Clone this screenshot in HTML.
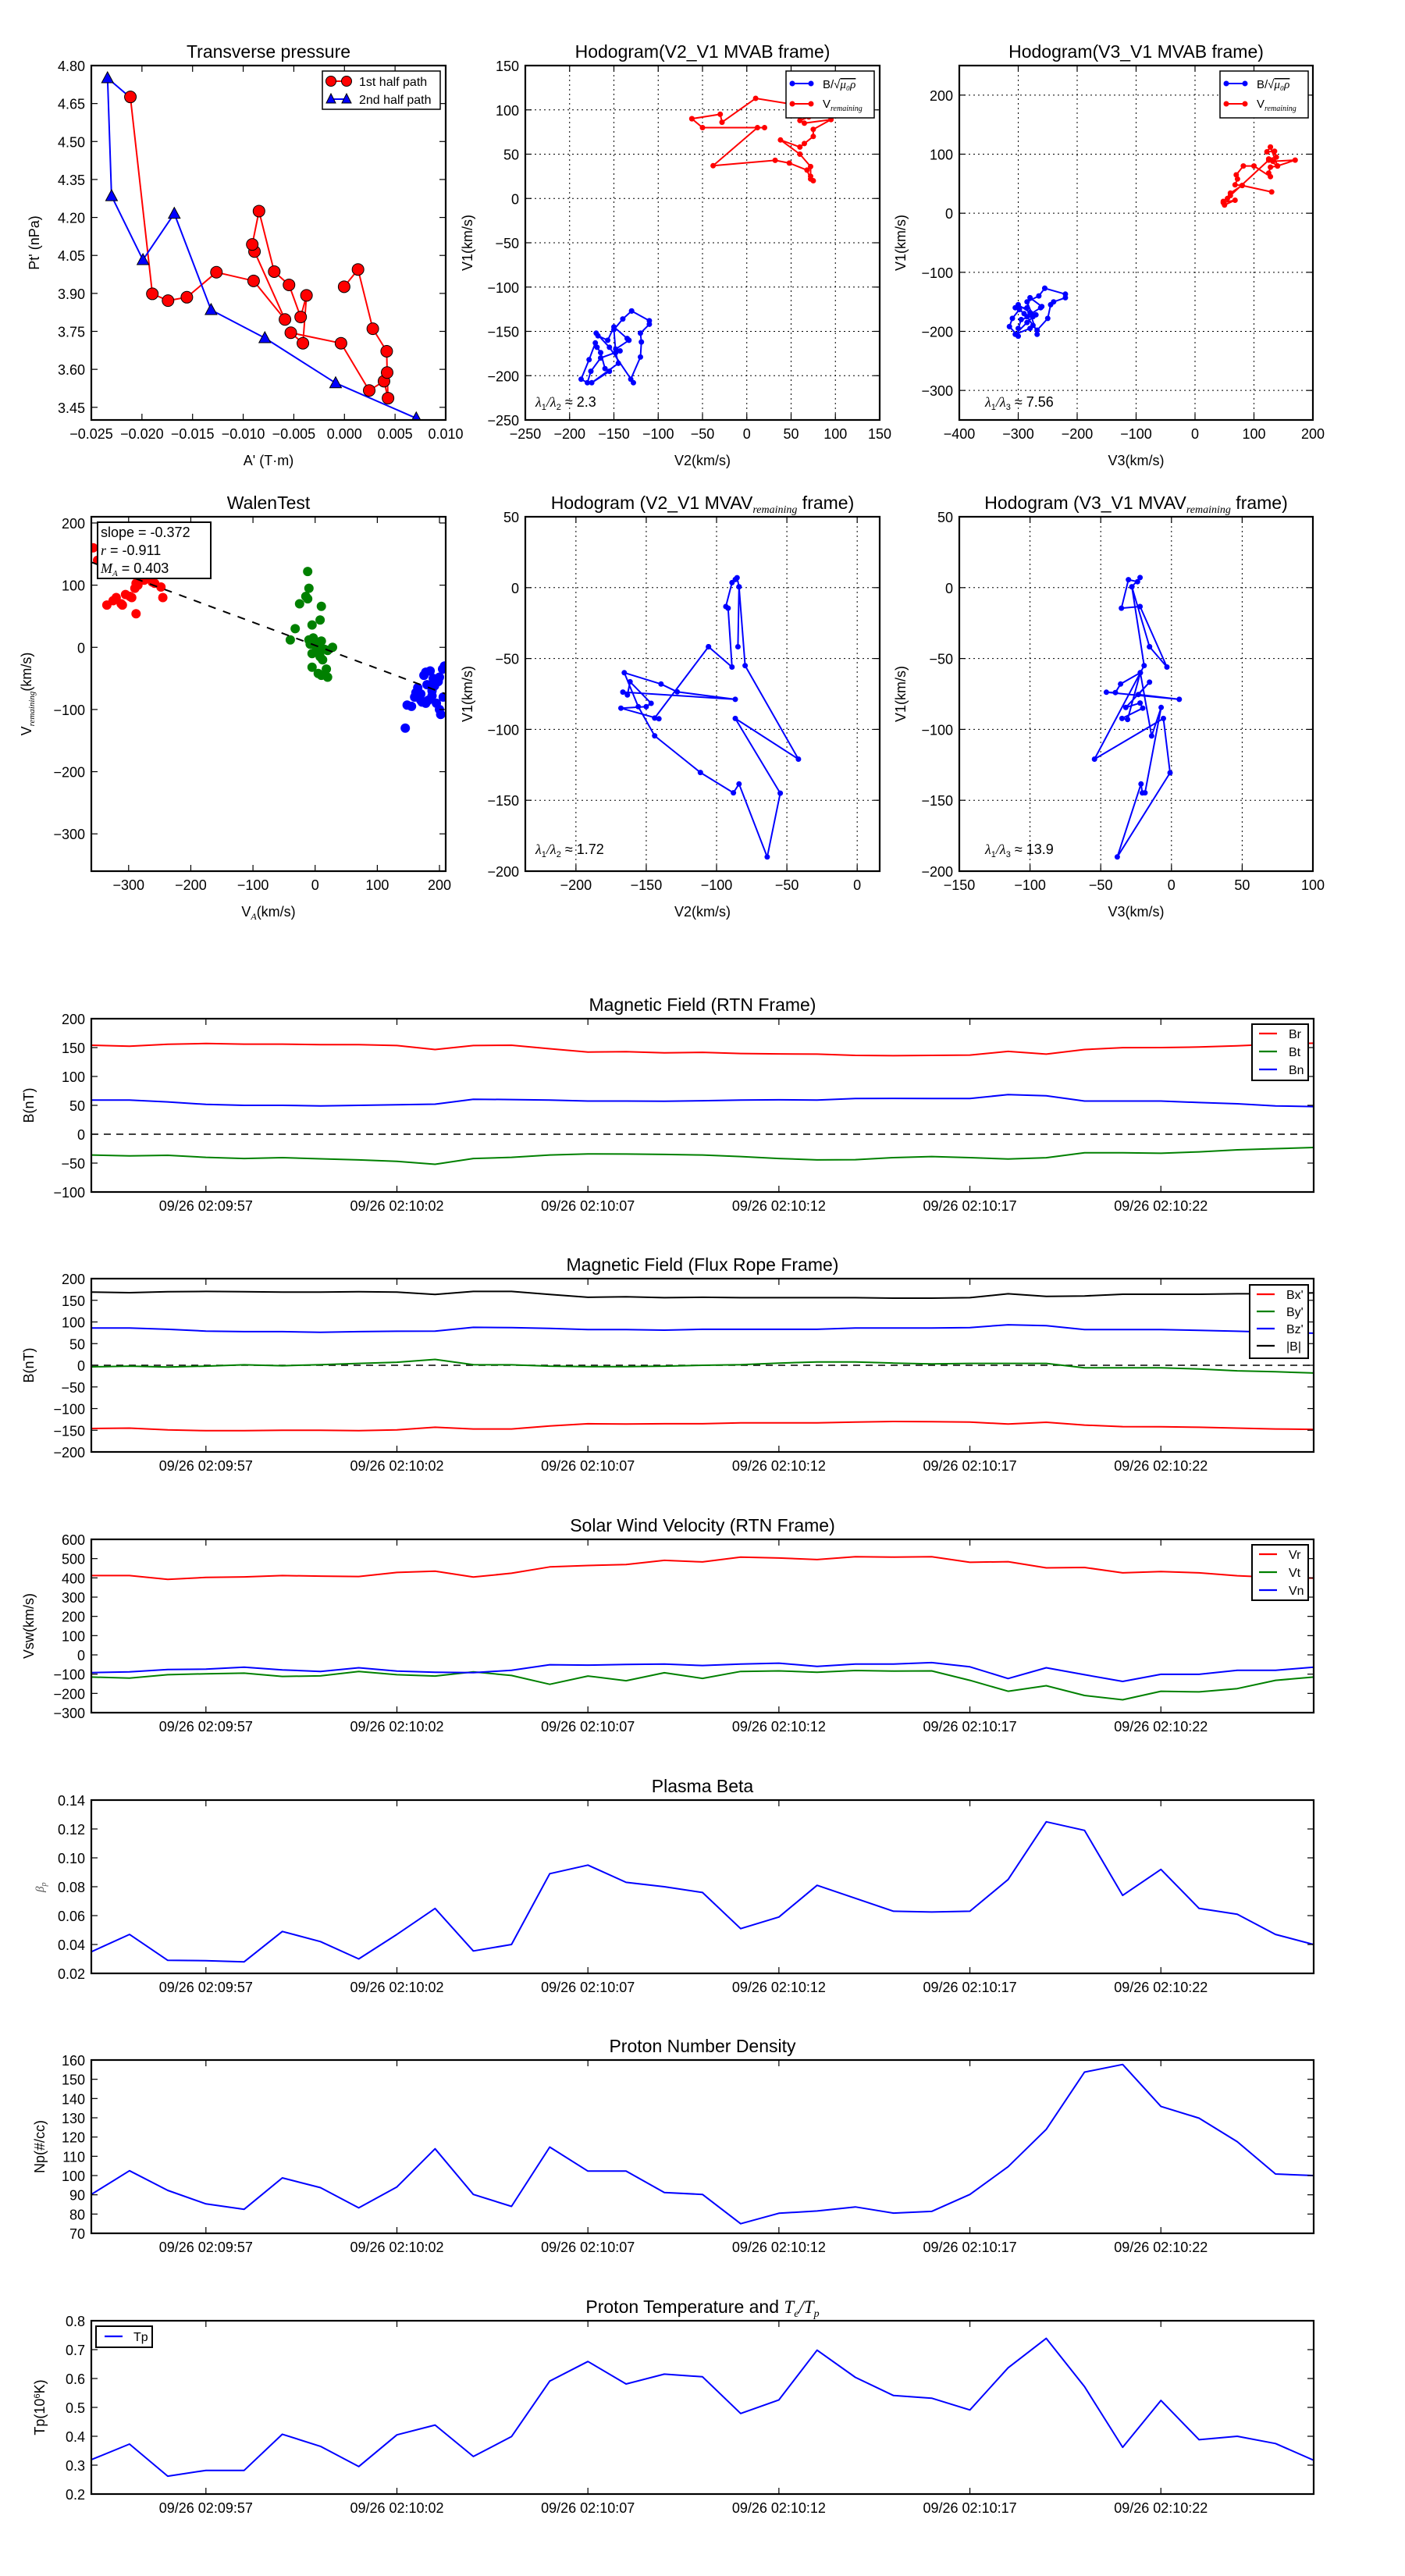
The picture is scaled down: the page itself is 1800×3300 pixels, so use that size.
<!DOCTYPE html>
<html><head><meta charset="utf-8">
<style>
html,body{margin:0;padding:0;background:#fff;}
svg{display:block;}
text{font-family:"Liberation Sans","DejaVu Sans",sans-serif;fill:#000;}
.m{font-family:"Liberation Serif",serif;font-style:italic;}
</style></head>
<body>
<div id="root"></div>
<script>
const S=[];let clipN=0;
const fmtMinus=s=>String(s).replace('-','\u2212');
function axes(o){
 const X=v=>o.x0+(v-o.xmin)/(o.xmax-o.xmin)*(o.x1-o.x0);
 const Y=v=>o.y1-(v-o.ymin)/(o.ymax-o.ymin)*(o.y1-o.y0);
 const id='c'+(clipN++);
 S.push(`<clipPath id="${id}"><rect x="${o.x0}" y="${o.y0}" width="${o.x1-o.x0}" height="${o.y1-o.y0}"/></clipPath>`);
 const fs=o.fs||18;
 if(o.grid){
  o.xt.forEach(t=>{const p=X(t);S.push(`<line x1="${p}" y1="${o.y0}" x2="${p}" y2="${o.y1}" stroke="#000" stroke-width="1" stroke-dasharray="2,4"/>`);});
  o.yt.forEach(t=>{const p=Y(t);S.push(`<line x1="${o.x0}" y1="${p}" x2="${o.x1}" y2="${p}" stroke="#000" stroke-width="1" stroke-dasharray="2,4"/>`);});
 }
 S.push(`<g clip-path="url(#${id})">`);
 o.draw(X,Y);
 S.push(`</g>`);
 o.xt.forEach((t,i)=>{const p=X(t);
  S.push(`<line x1="${p}" y1="${o.y1}" x2="${p}" y2="${o.y1-8}" stroke="#000" stroke-width="1.2"/><line x1="${p}" y1="${o.y0}" x2="${p}" y2="${o.y0+8}" stroke="#000" stroke-width="1.2"/>`);
  const lab=o.xl?o.xl[i]:fmtMinus(t);
  S.push(`<text x="${p}" y="${o.y1+24}" font-size="${fs}" text-anchor="middle">${lab}</text>`);
 });
 o.yt.forEach((t,i)=>{const p=Y(t);
  S.push(`<line x1="${o.x0}" y1="${p}" x2="${o.x0+8}" y2="${p}" stroke="#000" stroke-width="1.2"/><line x1="${o.x1}" y1="${p}" x2="${o.x1-8}" y2="${p}" stroke="#000" stroke-width="1.2"/>`);
  const lab=o.yl?o.yl[i]:fmtMinus(t);
  S.push(`<text x="${o.x0-8}" y="${p+7}" font-size="${fs}" text-anchor="end">${lab}</text>`);
 });
 S.push(`<rect x="${o.x0}" y="${o.y0}" width="${o.x1-o.x0}" height="${o.y1-o.y0}" fill="none" stroke="#000" stroke-width="2.2"/>`);
 if(o.title)S.push(`<text x="${(o.x0+o.x1)/2}" y="${o.y0-10}" font-size="23" text-anchor="middle">${o.title}</text>`);
 if(o.xlabel)S.push(`<text x="${(o.x0+o.x1)/2}" y="${o.y1+58}" font-size="18" text-anchor="middle">${o.xlabel}</text>`);
 if(o.ylabel){const cy=(o.y0+o.y1)/2;S.push(`<text x="${o.ylx}" y="${cy}" font-size="18" text-anchor="middle" transform="rotate(-90 ${o.ylx} ${cy})">${o.ylabel}</text>`);}
 return {X,Y};
}
function line(X,Y,pts,col,w){S.push(`<polyline fill="none" stroke="${col}" stroke-width="${w||2}" stroke-linejoin="round" points="${pts.map(p=>X(p[0]).toFixed(1)+','+Y(p[1]).toFixed(1)).join(' ')}"/>`);}
function dots(X,Y,pts,col,r,edge){pts.forEach(p=>S.push(`<circle cx="${X(p[0]).toFixed(1)}" cy="${Y(p[1]).toFixed(1)}" r="${r}" fill="${col}" ${edge?'stroke="#000" stroke-width="1"':''}/>`));}
function rng(a,b,s){const r=[];for(let v=a;v<=b+1e-9;v+=s)r.push(Math.round(v*1000)/1000);return r;}

// ===== Transverse pressure =====
const z2p=(a)=>a.map(p=>[p[0]/1.742,p[1]/2.529]);
const redTP=z2p([[291,314],[340,952],[375,974],[417,963],[483,882],[566,910],[636,1035],[568,815],[563,792],[578,684],[612,880],[645,923],[671,1027],[684,957],[676,1112],[649,1078],[761,1112],[824,1265],[857,1235],[866,1290],[864,1207],[863,1138],[832,1065],[799,873],[768,929]]);
const bluTP=z2p([[291,316],[240,253],[249,635],[319,842],[389,692],[471,1004],[591,1095],[749,1241],[929,1355]]);
const ID=v=>v;
axes({x0:117,x1:571,y0:84,y1:538,xmin:-0.025,xmax:0.010,ymin:3.40,ymax:4.80,
 xt:rng(-0.025,0.010,0.005),xl:['\u22120.025','\u22120.020','\u22120.015','\u22120.010','\u22120.005','0.000','0.005','0.010'],
 yt:rng(3.45,4.80,0.15),yl:['3.45','3.60','3.75','3.90','4.05','4.20','4.35','4.50','4.65','4.80'],
 title:'Transverse pressure',xlabel:"A' (T\u00b7m)",ylabel:"Pt' (nPa)",ylx:50,
 draw:()=>{
  line(ID,ID,redTP,'#f00',2);
  line(ID,ID,bluTP,'#00f',2);
  redTP.forEach(p=>S.push(`<circle cx="${p[0]}" cy="${p[1]}" r="7.5" fill="#f00" stroke="#000" stroke-width="1"/>`));
  bluTP.slice(1).forEach(p=>S.push(`<polygon points="${p[0]},${p[1]-8} ${p[0]-7.5},${p[1]+6} ${p[0]+7.5},${p[1]+6}" fill="#00f" stroke="#000" stroke-width="1"/>`));
 }});
S.push(`<rect x="413" y="91" width="151" height="49" fill="#fff" stroke="#000" stroke-width="1.5"/>
<line x1="424" y1="104" x2="444" y2="104" stroke="#f00" stroke-width="2"/><circle cx="424" cy="104" r="6.5" fill="#f00" stroke="#000"/><circle cx="444" cy="104" r="6.5" fill="#f00" stroke="#000"/>
<text x="460" y="110" font-size="16">1st half path</text>
<line x1="424" y1="127" x2="444" y2="127" stroke="#00f" stroke-width="2"/><polygon points="424,120 418,132 430,132" fill="#00f" stroke="#000"/><polygon points="444,120 438,132 450,132" fill="#00f" stroke="#000"/>
<text x="460" y="133" font-size="16">2nd half path</text>`);

// ===== Hodogram V2_V1 MVAB =====
const bB=[[-130,-127],[-110,-138],[-110,-142],[-120,-152],[-119,-162],[-120,-179],[-131,-204],[-128,-208],[-155,-168],[-170,-152],[-168,-155],[-157,-160],[-150,-145],[-135,-158],[-133,-160],[-148,-170],[-143,-172],[-165,-180],[-176,-195],[-180,-208],[-187,-204],[-178,-182],[-171,-163],[-169,-168],[-165,-174],[-160,-192],[-155,-195],[-175,-208],[-145,-186],[-148,-174],[-150,-148],[-140,-136],[-130,-127]];
const rV=[[-62,90],[-30,95],[-28,86],[10,113],[60,105],[70,92],[60,88],[65,85],[95,89],[75,78],[75,70],[65,62],[60,58],[38,66],[60,50],[72,36],[72,25],[75,20],[72,22],[68,32],[48,40],[32,43],[-38,37],[12,80],[20,80],[-50,80],[-62,90]];
function legBV(x){S.push(`<rect x="${x}" y="91" width="113" height="60" fill="#fff" stroke="#000" stroke-width="1.5"/>
<line x1="${x+8}" y1="107" x2="${x+32}" y2="107" stroke="#00f" stroke-width="2"/><circle cx="${x+8}" cy="107" r="3.5" fill="#00f"/><circle cx="${x+32}" cy="107" r="3.5" fill="#00f"/>
<text x="${x+47}" y="113" font-size="15">B/\u221A<tspan class="m" text-decoration="overline">\u03bc\u2080\u03c1</tspan></text>
<line x1="${x+8}" y1="133" x2="${x+32}" y2="133" stroke="#f00" stroke-width="2"/><circle cx="${x+8}" cy="133" r="3.5" fill="#f00"/><circle cx="${x+32}" cy="133" r="3.5" fill="#f00"/>
<text x="${x+47}" y="138" font-size="15">V<tspan class="m" font-size="10" dy="4">remaining</tspan></text>`);}
axes({x0:673,x1:1127,y0:84,y1:538,xmin:-250,xmax:150,ymin:-250,ymax:150,grid:1,
 xt:rng(-250,150,50),yt:rng(-250,150,50),title:'Hodogram(V2_V1 MVAB frame)',xlabel:'V2(km/s)',ylabel:'V1(km/s)',ylx:605,
 draw:(X,Y)=>{line(X,Y,bB,'#00f',2);dots(X,Y,bB,'#00f',3.5);line(X,Y,rV,'#f00',2);dots(X,Y,rV,'#f00',3.5);}});
legBV(1007);
S.push(`<text x="686" y="521" font-size="18"><tspan class="m">\u03bb</tspan><tspan font-size="11" dy="4">1</tspan><tspan class="m" dy="-4">/\u03bb</tspan><tspan font-size="11" dy="4">2</tspan><tspan dy="-4"> \u2248 2.3</tspan></text>`);

// ===== Hodogram V3_V1 MVAB =====
const bB3=[[-255,-127],[-220,-137],[-220,-143],[-240,-150],[-245,-155],[-250,-178],[-268,-198],[-268,-205],[-280,-168],[-300,-155],[-305,-160],[-285,-160],[-280,-143],[-260,-158],[-262,-160],[-278,-170],[-270,-172],[-295,-180],[-300,-195],[-300,-208],[-315,-192],[-310,-178],[-298,-163],[-290,-170],[-285,-175],[-275,-190],[-280,-195],[-305,-205],[-285,-185],[-275,-175],[-285,-150],[-265,-140],[-255,-127]];
const rV3=[[128,112],[122,104],[135,105],[138,95],[125,92],[132,88],[170,90],[140,80],[128,78],[125,68],[128,62],[100,80],[82,80],[70,65],[72,58],[68,48],[80,47],[130,36],[80,47],[60,34],[55,25],[48,20],[50,14],[68,22],[48,18],[60,30],[125,90],[140,80],[128,112]];
axes({x0:1229,x1:1682,y0:84,y1:538,xmin:-400,xmax:200,ymin:-350,ymax:250,grid:1,
 xt:rng(-400,200,100),yt:rng(-300,200,100),title:'Hodogram(V3_V1 MVAB frame)',xlabel:'V3(km/s)',ylabel:'V1(km/s)',ylx:1160,
 draw:(X,Y)=>{line(X,Y,bB3,'#00f',2);dots(X,Y,bB3,'#00f',3.5);line(X,Y,rV3,'#f00',2);dots(X,Y,rV3,'#f00',3.5);}});
legBV(1563);
S.push(`<text x="1262" y="521" font-size="18"><tspan class="m">\u03bb</tspan><tspan font-size="11" dy="4">1</tspan><tspan class="m" dy="-4">/\u03bb</tspan><tspan font-size="11" dy="4">3</tspan><tspan dy="-4"> \u2248 7.56</tspan></text>`);

// ===== Walen =====
const wr=[[-335,68],[-325,75],[-320,80],[-312,70],[-310,68],[-305,85],[-298,82],[-295,80],[-290,95],[-288,103],[-285,100],[-288,54],[-280,110],[-275,108],[-268,115],[-262,105],[-258,103],[-248,97],[-245,80],[-357,160],[-350,140],[-342,150]];
const wg=[[-12,122],[-10,95],[-15,82],[-12,78],[-25,70],[10,66],[8,44],[-5,36],[-32,30],[-40,12],[-10,12],[-8,5],[-3,15],[0,10],[5,2],[10,10],[-5,-10],[2,-5],[8,-15],[12,-20],[20,-5],[28,0],[-5,-32],[5,-42],[10,-45],[18,-35],[20,-48],[15,-3]];
const wb=[[145,-130],[148,-93],[155,-95],[160,-80],[162,-73],[165,-65],[170,-75],[172,-88],[175,-45],[178,-40],[180,-60],[182,-85],[185,-38],[188,-70],[190,-50],[195,-90],[198,-55],[200,-48],[200,-100],[202,-108],[205,-35],[208,-30],[206,-80],[170,-85],[178,-90],[188,-78],[192,-62],[165,-80]];
axes({x0:117,x1:571,y0:662,y1:1116,xmin:-360,xmax:210,ymin:-360,ymax:210,
 xt:rng(-300,200,100),yt:rng(-300,200,100),title:'WalenTest',
 xlabel:'V<tspan class="m" font-size="12" dy="4">A</tspan><tspan dy="-4">(km/s)</tspan>',
 ylabel:'V<tspan class="m" font-size="11" dy="4">remaining</tspan><tspan dy="-4">(km/s)</tspan>',ylx:40,
 draw:(X,Y)=>{dots(X,Y,wr,'#f00',6);dots(X,Y,wg,'#008000',6);dots(X,Y,wb,'#00f',6);
  S.push(`<line x1="${X(-360)}" y1="${Y(137)}" x2="${X(210)}" y2="${Y(-75)}" stroke="#000" stroke-width="2" stroke-dasharray="10,10"/>`);}});
S.push(`<rect x="125" y="669" width="145" height="72" fill="#fff" stroke="#000" stroke-width="2"/>
<text x="129" y="688" font-size="18">slope = -0.372</text>
<text x="129" y="711" font-size="18"><tspan class="m">r</tspan> = -0.911</text>
<text x="129" y="734" font-size="18"><tspan class="m">M</tspan><tspan class="m" font-size="11" dy="4">A</tspan><tspan dy="-4"> = 0.403</tspan></text>`);

// ===== Hodogram V2_V1 MVAV =====
const h2=[[-105.7,-41.7],[-89,-56],[-91.8,-14.5],[-93.4,-13.3],[-89,3.5],[-86.7,5.7],[-85.4,7],[-84,0.6],[-84.8,-41.7],[-84,0.6],[-79.7,-55],[-41.8,-121],[-86.7,-92.3],[-54.7,-145],[-64,-190],[-84,-138.5],[-88,-144.7],[-111.5,-130.4],[-144,-104.5],[-155.7,-84],[-165.6,-60],[-139.5,-68],[-128,-73.5],[-86.7,-78.8],[-166.6,-73.7],[-163.4,-75.7],[-161.5,-66.4],[-146.5,-81.6],[-150,-84],[-168,-85],[-141,-92.5],[-144,-92],[-105.7,-41.7]];
const sub=t=>`V<tspan class="m" font-size="14" dy="5">${t}</tspan><tspan dy="-5"> frame)</tspan>`;
axes({x0:673,x1:1127,y0:662,y1:1116,xmin:-236,xmax:16,ymin:-200,ymax:50,grid:1,
 xt:rng(-200,0,50),yt:rng(-200,50,50),title:'Hodogram (V2_V1 MVA'+sub('remaining'),xlabel:'V2(km/s)',ylabel:'V1(km/s)',ylx:605,
 draw:(X,Y)=>{line(X,Y,h2,'#00f',2);dots(X,Y,h2,'#00f',3.5);}});
S.push(`<text x="686" y="1094" font-size="18"><tspan class="m">\u03bb</tspan><tspan font-size="11" dy="4">1</tspan><tspan class="m" dy="-4">/\u03bb</tspan><tspan font-size="11" dy="4">2</tspan><tspan dy="-4"> \u2248 1.72</tspan></text>`);

// ===== Hodogram V3_V1 MVAV =====
const h3=[[-15.5,-41.7],[-3.2,-56],[-22.2,-13.3],[-35.4,-14.5],[-30.4,5.6],[-24,4.2],[-22.2,7.1],[-28,0.6],[-15.5,-41.7],[-28,0.6],[-19.3,-55],[-54.4,-121],[-5.7,-92.3],[-1,-130.6],[-38.3,-190],[-21.5,-138.5],[-20.6,-144.8],[-18.7,-144.7],[-7.3,-84.5],[-14,-104.6],[-22,-60],[-36,-68],[-39.6,-74],[-46,-73.8],[5.5,-78.8],[-23.4,-75.4],[-15.5,-66.7],[-32.3,-84.5],[-22.2,-81.4],[-20.3,-85],[-35,-92.3],[-31,-93],[-22,-60]];
axes({x0:1229,x1:1682,y0:662,y1:1116,xmin:-150,xmax:100,ymin:-200,ymax:50,grid:1,
 xt:rng(-150,100,50),yt:rng(-200,50,50),title:'Hodogram (V3_V1 MVA'+sub('remaining'),xlabel:'V3(km/s)',ylabel:'V1(km/s)',ylx:1160,
 draw:(X,Y)=>{line(X,Y,h3,'#00f',2);dots(X,Y,h3,'#00f',3.5);}});
S.push(`<text x="1262" y="1094" font-size="18"><tspan class="m">\u03bb</tspan><tspan font-size="11" dy="4">1</tspan><tspan class="m" dy="-4">/\u03bb</tspan><tspan font-size="11" dy="4">3</tspan><tspan dy="-4"> \u2248 13.9</tspan></text>`);

// ===== Time series =====
const TX=[3,8,13,18,23,28],TL=['09/26 02:09:57','09/26 02:10:02','09/26 02:10:07','09/26 02:10:12','09/26 02:10:17','09/26 02:10:22'];
function ts(top,ymin,ymax,yt,yl,title,ylabel,ylx,series,zero){
 axes({x0:117,x1:1683,y0:top,y1:top+222,xmin:0,xmax:32,ymin,ymax,xt:TX,xl:TL,yt,yl,title,ylabel,ylx,fs:18,
  draw:(X,Y)=>{
   if(zero)S.push(`<line x1="117" y1="${Y(0)}" x2="1683" y2="${Y(0)}" stroke="#000" stroke-width="1.5" stroke-dasharray="9,7"/>`);
   series.forEach(s=>line(X,Y,s[0].map((v,i)=>[i,v]),s[1],2));
  }});
}
function legend(x,y,w,h,items,dy,lx,tx){
 S.push(`<rect x="${x}" y="${y}" width="${w}" height="${h}" fill="#fff" stroke="#000" stroke-width="2"/>`);
 items.forEach((it,i)=>{const yy=y+12+i*dy;
  S.push(`<line x1="${lx}" y1="${yy}" x2="${lx+23}" y2="${yy}" stroke="${it[1]}" stroke-width="2.2"/><text x="${tx}" y="${yy+6}" font-size="16">${it[0]}</text>`);});
}
const Br=[154,152.5,155.7,157,156,156,155,155,153.5,146.6,153.5,154,148,142.3,143,141,141.8,139.7,139,138.6,136.5,136,136.5,137,143.4,138.6,146.6,149.8,150,151,153,156,157.6];
const Bn=[59,59,56,51.6,50,50,49,50,51,52,60.6,60,59,57.5,57.5,57,58,59,59.6,59,61.7,62,61.7,61.7,68.7,66.6,57.5,57.5,57.5,54.8,52.7,49,47.9];
const Bt=[-36,-37.5,-36.5,-40,-42,-40.5,-42.6,-44.5,-47,-52,-42,-40,-36,-34,-34.3,-35,-36,-38.6,-42,-44.5,-44,-40.5,-38.6,-40.5,-43,-40.7,-32,-32,-33,-30.6,-27,-25,-23];
ts(1305,-100,200,rng(-100,200,50),null,'Magnetic Field (RTN Frame)','B(nT)',43,[[Br,'#f00'],[Bt,'#008000'],[Bn,'#00f']],1);
legend(1604,1312,72,72,[['Br','#f00'],['Bt','#008000'],['Bn','#00f']],23,1613,1651);

const BB=[169,167.5,170,170.5,170,169,169,170,169,163.5,170.5,170.5,163.5,157,158,156,157,156,156,156,156,155,155,156,165,159,160,164,164,164,165,165,167];
const Bz=[86,86,83,79,77.6,77.6,76,77.6,78.6,79,87.5,87,85,82.6,82.6,81,83,83,83,83,86,86,86,87,93.6,91.5,82.6,82.6,82.6,80.5,78.6,76,74];
const By=[-3.6,-2,-4,-2,1,-1,1.4,4.3,7,13.5,1.4,1,-2,-3,-3,-2,0,1.4,5,7.8,7.8,5,3,4.3,4.3,4.3,-5.7,-5.7,-5.7,-8.5,-12.8,-15,-17.8];
const Bx=[-146,-145,-149,-151,-151,-150,-150,-151,-149,-143,-147,-147,-140,-135,-135.6,-135,-135,-133,-133,-133,-131,-129.7,-130,-131,-135.6,-131.5,-138,-141.6,-142,-143,-145,-147,-148];
ts(1638,-200,200,rng(-200,200,50),null,'Magnetic Field (Flux Rope Frame)','B(nT)',43,[[Bx,'#f00'],[By,'#008000'],[Bz,'#00f'],[BB,'#000']],1);
legend(1601,1646,75,94,[["Bx'",'#f00'],["By'",'#008000'],["Bz'",'#00f'],['|B|','#000']],22,1610,1648);

const Vr=[412,412,392,402,405,412,409,407,428,435,404,424,457,464,469,491,483,508,503,495,510,508,510,481,484,452,454,426,433,426,411,402,399];
const Vn=[-92,-88,-76,-74,-64,-78,-86,-67,-84,-90,-92,-80,-51,-53,-50,-48,-55,-48,-43,-60,-48,-48,-40,-62,-123,-67,-103,-138,-101,-101,-80,-80,-64];
const Vt=[-115,-121,-103,-98,-95,-112,-109,-86,-103,-110,-88,-107,-153,-110,-134,-93,-122,-86,-83,-90,-81,-84,-83,-132,-189,-160,-211,-233,-189,-192,-175,-132,-115];
ts(1972,-300,600,rng(-300,600,100),null,'Solar Wind Velocity (RTN Frame)','Vsw(km/s)',43,[[Vr,'#f00'],[Vt,'#008000'],[Vn,'#00f']],0);
legend(1604,1979,72,71,[['Vr','#f00'],['Vt','#008000'],['Vn','#00f']],23,1613,1651);

const beta=[0.035,0.047,0.029,0.0288,0.028,0.049,0.042,0.030,0.047,0.065,0.0355,0.040,0.089,0.095,0.083,0.080,0.076,0.051,0.059,0.081,0.072,0.063,0.0625,0.063,0.085,0.125,0.119,0.074,0.092,0.065,0.061,0.047,0.040];
ts(2306,0.02,0.14,rng(0.02,0.14,0.02),['0.02','0.04','0.06','0.08','0.10','0.12','0.14'],'Plasma Beta','',0,[[beta,'#00f']],0);
S.push(`<text x="56" y="2424" font-size="15" class="m" fill="#555" transform="rotate(-90 56 2424)" style="fill:#555">\u03b2<tspan font-size="10" dy="3">p</tspan></text>`);

const Np=[90.2,102.5,92.3,85.3,82.5,98.8,93.7,83.2,94.1,113.9,90.2,84,114.8,102.3,102.3,91.2,90.2,75,80.4,81.6,83.7,80.5,81.4,90.2,104.6,124,153.7,157.7,135.9,129.8,117.6,100.8,100];
ts(2639,70,160,rng(70,160,10),null,'Proton Number Density','Np(#/cc)',57,[[Np,'#00f']],0);

const Tp=[0.319,0.373,0.262,0.282,0.282,0.407,0.365,0.295,0.405,0.439,0.330,0.399,0.591,0.659,0.581,0.615,0.606,0.479,0.526,0.698,0.604,0.541,0.532,0.491,0.637,0.739,0.572,0.362,0.524,0.388,0.400,0.375,0.317];
ts(2973,0.2,0.8,rng(0.2,0.8,0.1),['0.2','0.3','0.4','0.5','0.6','0.7','0.8'],'Proton Temperature and <tspan class="m">T</tspan><tspan class="m" font-size="14" dy="5">e</tspan><tspan class="m" dy="-5">/T</tspan><tspan class="m" font-size="14" dy="5">p</tspan>','Tp(10<tspan font-size="11" dy="-6">6</tspan><tspan dy="6">K)</tspan>',57,[[Tp,'#00f']],0);
S.push(`<rect x="123" y="2980" width="72" height="27" fill="#fff" stroke="#000" stroke-width="2"/><line x1="134" y1="2993" x2="157" y2="2993" stroke="#00f" stroke-width="2.2"/><text x="171" y="2999" font-size="16">Tp</text>`);

document.getElementById('root').innerHTML=`<svg xmlns="http://www.w3.org/2000/svg" width="1800" height="3300" viewBox="0 0 1800 3300"><rect width="1800" height="3300" fill="#fff"/>${S.join('')}</svg>`;
</script>
</body></html>
